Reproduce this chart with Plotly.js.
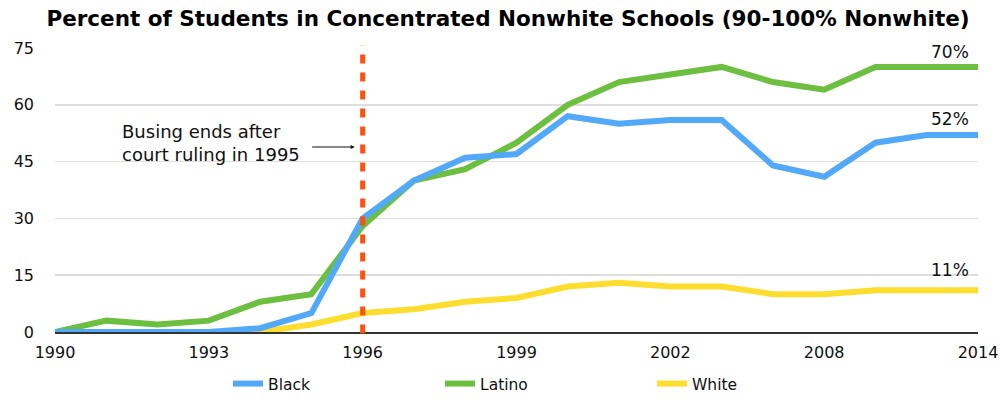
<!DOCTYPE html>
<html>
<head>
<meta charset="utf-8">
<script src="https://cdn.plot.ly/plotly-3.0.1.min.js"></script>
<style>html,body{margin:0;padding:0;background:#fff}#chart{width:1000px;height:401px}</style>
</head>
<body>
<div id="chart"></div>
<script>
const years = ["1990","1991","1992","1993","1994","1995","1996","1997","1998","1999","2000","2001","2002","2004","2006","2008","2010","2012","2014"];
const tickLabels = ["1990","1993","1996","1999","2002","2008","2014"];
const black  = [0,0,0,0,1,5,30,40,46,47,57,55,56,56,44,41,50,52,52];
const latino = [0,3,2,3,8,10,28,40,43,50,60,66,68,70,66,64,70,70,70];
const white  = [0,0,0,0,0,2,5,6,8,9,12,13,12,12,10,10,11,11,11];
const endLabels = ["70%","52%","11%"];
const eventYear = "1996";

const font = "DejaVu Sans, Verdana, sans-serif";
const traces = [
  {x: years, y: white, name: "White", mode: "lines", line: {color: "#FDDE2F", width: 6}, cliponaxis: false, showlegend: false},
  {x: years, y: latino, name: "Latino", mode: "lines", line: {color: "#6CBF3F", width: 6}, cliponaxis: false, showlegend: false},
  {x: years, y: black, name: "Black", mode: "lines", line: {color: "#52A9F9", width: 6}, cliponaxis: false, showlegend: false},
  {x: [null], y: [null], name: "Black", mode: "lines", line: {color: "#52A9F9", width: 6}},
  {x: [null], y: [null], name: "Latino", mode: "lines", line: {color: "#6CBF3F", width: 6}},
  {x: [null], y: [null], name: "White", mode: "lines", line: {color: "#FDDE2F", width: 6}}
];
const lastIdx = years.length - 1;
const evIdx = years.indexOf(eventYear);
const layout = {
  width: 1000, height: 401,
  margin: {l: 55, r: 22, t: 48, b: 69},
  paper_bgcolor: "#fff", plot_bgcolor: "#fff",
  font: {family: font, size: 15, color: "#111"},
  title: {text: "<b>Percent of Students in Concentrated Nonwhite Schools (90-100% Nonwhite)</b>", x: 0.508, xanchor: "center", y: 0.955, yanchor: "middle", font: {family: font, size: 21.5, color: "#000"}},
  xaxis: {type: "category", categoryorder: "array", categoryarray: years, range: [0, lastIdx], tickvals: tickLabels, ticktext: tickLabels,
          showgrid: false, zeroline: false, showline: true, linecolor: "#333", linewidth: 2, ticks: "", ticklabelstandoff: 5, tickfont: {size: 16}},
  yaxis: {range: [0, 75], tickvals: [0,15,30,45,60,75], showgrid: true, gridcolor: "#dedede", gridwidth: 1.5, zeroline: false,
          showline: false, ticks: "", ticklabelstandoff: 20, tickfont: {size: 16}},
  legend: {orientation: "h", xref: "container", yref: "container", x: 0.228, xanchor: "left", y: 0.0, yanchor: "bottom",
           entrywidth: 167, entrywidthmode: "pixels", font: {size: 15.5}},
  shapes: [{type: "line", xref: "x", yref: "paper", x0: evIdx, x1: evIdx, y0: -0.005, y1: 1.01,
            line: {color: "#FF5010", width: 5, dash: "9px,9px"}}],
  annotations: [
    {xref: "paper", yref: "paper", x: (120-55)/923, y: (332-143)/284, text: "Busing ends after<br>court ruling in 1995", showarrow: false,
     xanchor: "left", yanchor: "middle", align: "left", font: {size: 18, color: "#111"}},
    {xref: "x", yref: "paper", x: evIdx, y: (332-147)/284, ax: -52, ay: 0, axref: "pixel", ayref: "pixel", text: " ", font: {size: 1}, showarrow: true, arrowhead: 2, arrowsize: 0.8, arrowwidth: 1, arrowcolor: "#111", standoff: 8},
    {xref: "x", yref: "y", x: lastIdx, y: latino[lastIdx], text: endLabels[0], showarrow: false, xanchor: "right", yanchor: "bottom", xshift: -7, yshift: 3, font: {size: 17}},
    {xref: "x", yref: "y", x: lastIdx, y: black[lastIdx], text: endLabels[1], showarrow: false, xanchor: "right", yanchor: "bottom", xshift: -7, yshift: 4, font: {size: 17}},
    {xref: "x", yref: "y", x: lastIdx, y: white[lastIdx], text: endLabels[2], showarrow: false, xanchor: "right", yanchor: "bottom", xshift: -7, yshift: 8, font: {size: 17}}
  ]
};
Plotly.newPlot("chart", traces, layout, {staticPlot: true, displayModeBar: false});
</script>
</body>
</html>
